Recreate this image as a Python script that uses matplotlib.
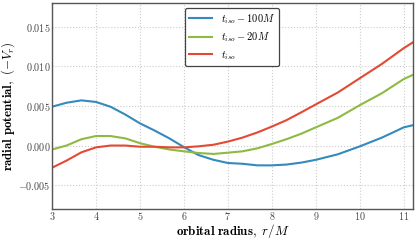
import matplotlib
matplotlib.use('Agg')
import matplotlib.pyplot as plt

# ── Data ─────────────────────────────────────────────────────
r = [3.0, 3.33, 3.67, 4.0, 4.33, 4.67, 5.0, 5.33, 5.67, 6.0, 6.33, 6.67,
     7.0, 7.33, 7.67, 8.0, 8.33, 8.67, 9.0, 9.5, 10.0, 10.5, 11.0, 11.2]

v_100 = [0.0049, 0.0054, 0.0057, 0.0055, 0.0049, 0.0039, 0.0028, 0.0019,
         0.0009, -0.0002, -0.0012, -0.0018, -0.0022, -0.0023, -0.0025, -0.0025,
         -0.0024, -0.00215, -0.0018, -0.0011, -0.0001, 0.0010, 0.0023, 0.00256]

v_20 = [-0.0005, 0.0000, 0.0008, 0.0012, 0.0012, 0.0009, 0.0003, -0.00015,
        -0.0005, -0.00073, -0.00094, -0.00106, -0.0009, -0.00073, -0.00035, 0.0002,
        0.0008, 0.0015, 0.0023, 0.0035, 0.0051, 0.0066, 0.0084, 0.0089]

v_iso = [-0.0028, -0.0019, -0.00085, -0.00023, 0.0, 0.0, -0.00015, -0.00015,
         -0.00023, -0.00023, -0.0001, 0.0001, 0.0005, 0.0010, 0.00165, 0.0024,
         0.0032, 0.0042, 0.0052, 0.0067, 0.0085, 0.0103, 0.0123, 0.0130]

labels = [r"$t_{iso} - 100M$", r"$t_{iso} - 20M$", r"$t_{iso}$"]
colors = ["#348ABD", "#8EBA42", "#E24A33"]

xticks = [3, 4, 5, 6, 7, 8, 9, 10, 11]
yticks = [-0.005, 0.0, 0.005, 0.010, 0.015]

# ── Style ────────────────────────────────────────────────────
plt.rcParams["font.family"] = ["cmr10", "DejaVu Serif"]
plt.rcParams["mathtext.fontset"] = "cm"
plt.rcParams["axes.formatter.use_mathtext"] = True

fig = plt.figure(figsize=(4.16, 2.41), dpi=100)
ax = fig.add_axes([0.125, 0.133, 0.867, 0.855])

for y, lab, c in zip([v_100, v_20, v_iso], labels, colors):
    ax.plot(r, y, color=c, linewidth=1.5, label=lab)

ax.set_xlim(3, 11.2)
ax.set_ylim(-0.008, 0.018)
ax.set_xticks(xticks)
ax.set_xticklabels([f"${t}$" for t in xticks])
ax.set_yticks(yticks)
ax.set_yticklabels([f"${t:.3f}$" for t in yticks])
ax.tick_params(length=0, labelsize=7.3, colors="#444444", pad=1.0)
ax.grid(True, color="#cccccc", linestyle=":", linewidth=0.8)

for s in ax.spines.values():
    s.set_color("#555555")
    s.set_linewidth(1.0)

ax.set_xlabel(r"$\mathbf{orbital\ radius,}\ r/M$", fontsize=9.3)
ax.set_ylabel(r"$\mathbf{radial\ potential,}\ (-V_r)$", fontsize=9.3)
ax.xaxis.set_label_coords(0.5, -0.063)
ax.yaxis.set_label_coords(-0.097, 0.5)

leg = ax.legend(loc="upper center", bbox_to_anchor=(0.499, 0.976), borderaxespad=0,
                fontsize=7.5, handlelength=2.2, fancybox=True, framealpha=1,
                labelspacing=0.45)
leg.get_frame().set_edgecolor("#444444")
leg.get_frame().set_linewidth(0.9)

plt.savefig("out.png", dpi=100)
plt.close()
